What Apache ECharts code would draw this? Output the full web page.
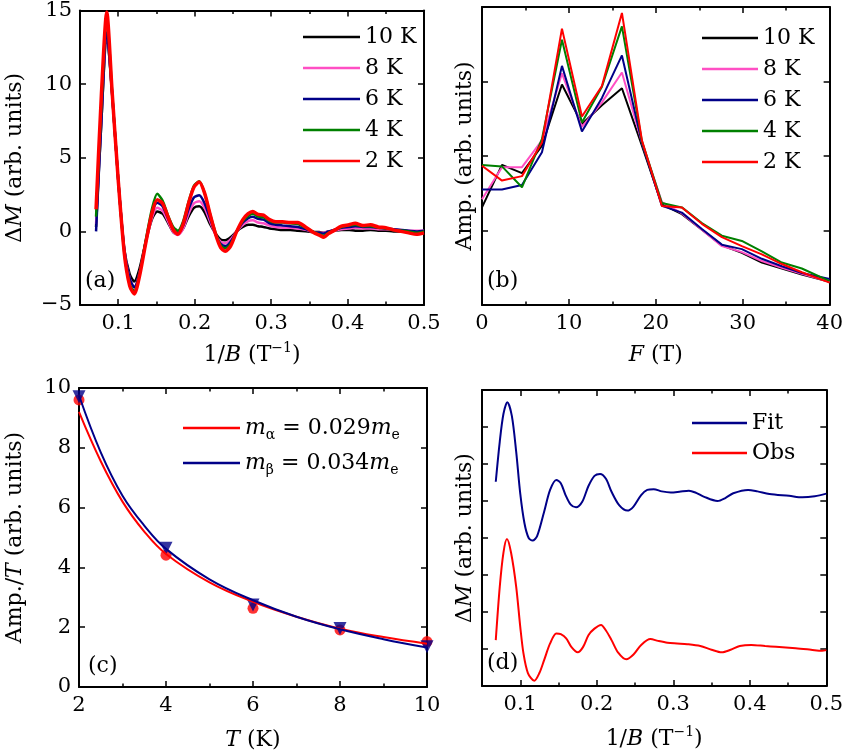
<!DOCTYPE html>
<html><head><meta charset="utf-8">
<script src="https://cdn.jsdelivr.net/npm/echarts@6/dist/echarts.min.js"></script>
<style>html,body{margin:0;padding:0;background:#fff}#c{width:846px;height:754px}</style>
</head><body><div id="c"></div>
<script>
const FONT = 'DejaVu Serif';
// ---------- Panel (a): dM vs 1/B ----------
const aX = [0.071,0.078,0.085,0.092,0.100,0.108,0.115,0.121,0.128,0.136,0.144,0.151,0.158,0.165,0.172,0.178,0.185,0.192,0.199,0.206,0.213,0.220,0.228,0.234,0.240,0.247,0.255,0.263,0.270,0.276,0.283,0.290,0.298,0.306,0.315,0.325,0.335,0.345,0.356,0.363,0.369,0.375,0.382,0.392,0.402,0.410,0.420,0.430,0.440,0.450,0.460,0.470,0.480,0.490,0.500];
const a10K = [0.3,7.5,13.4,9.3,3.5,-1.2,-2.9,-3.4,-2.5,-0.7,0.8,1.35,1.2,0.6,-0.05,-0.2,0.2,1.0,1.6,1.7,1.3,0.5,-0.2,-0.55,-0.6,-0.4,0.0,0.3,0.45,0.45,0.35,0.3,0.2,0.15,0.1,0.1,0.05,0.0,-0.05,-0.05,-0.1,0.0,0.05,0.1,0.1,0.05,0.05,0.1,0.05,0.05,0.0,0.0,0.0,0.0,0.0];
const a8K  = [0.5,7.8,13.7,9.4,3.5,-1.3,-3.2,-3.8,-2.8,-0.8,0.9,1.6,1.4,0.7,-0.05,-0.25,0.2,1.2,1.9,2.05,1.6,0.7,-0.3,-0.7,-0.8,-0.55,0.0,0.45,0.7,0.75,0.6,0.55,0.4,0.3,0.25,0.25,0.2,0.1,-0.05,-0.1,-0.1,0.0,0.05,0.15,0.2,0.25,0.2,0.2,0.15,0.15,0.1,0.1,0.05,0.05,0.05];
const a6K  = [0.0,7.5,13.5,9.4,3.5,-1.3,-3.2,-3.8,-2.8,-0.7,1.2,1.95,1.7,0.9,0.1,-0.1,0.4,1.5,2.3,2.45,1.9,0.9,-0.3,-0.85,-1.0,-0.7,0.0,0.6,0.9,1.0,0.85,0.8,0.55,0.45,0.4,0.35,0.3,0.15,-0.05,-0.1,-0.15,0.0,0.1,0.25,0.3,0.35,0.3,0.3,0.25,0.2,0.15,0.1,0.05,0.0,0.05];
const a4K  = [1.0,8.5,14.6,9.5,3.5,-1.5,-3.6,-4.05,-2.9,-0.6,1.5,2.55,2.1,1.1,0.3,0.05,0.7,2.0,3.1,3.4,2.6,1.2,-0.2,-0.95,-1.15,-0.85,0.0,0.7,1.05,1.2,1.0,0.95,0.7,0.6,0.6,0.55,0.5,0.25,-0.05,-0.2,-0.3,-0.1,0.05,0.3,0.4,0.45,0.35,0.35,0.25,0.2,0.1,0.05,0.0,-0.1,0.0];
const a2K  = [1.5,9.3,14.9,9.5,3.5,-1.5,-3.7,-4.25,-3.0,-0.8,1.2,2.15,1.9,1.0,0.1,-0.2,0.5,1.9,3.0,3.35,2.6,1.2,-0.3,-1.1,-1.35,-1.0,0.0,0.8,1.2,1.35,1.15,1.1,0.8,0.65,0.65,0.6,0.6,0.3,-0.1,-0.25,-0.4,-0.15,0.05,0.35,0.45,0.55,0.4,0.45,0.3,0.25,0.1,0.0,-0.1,-0.2,-0.1];
// ---------- Panel (b): FFT amplitude vs F ----------
const bF = [0,2.3,4.6,6.9,9.2,11.5,13.8,16.1,18.4,20.7,23.0,25.3,27.6,29.9,32.2,34.5,36.8,40];
const b10K = [1.31,1.88,1.77,2.14,2.96,2.43,2.68,2.91,2.14,1.35,1.22,1.01,0.80,0.70,0.57,0.49,0.41,0.31];
const b8K  = [1.42,1.85,1.85,2.21,3.11,2.39,2.72,3.12,2.18,1.38,1.23,1.01,0.79,0.71,0.59,0.50,0.42,0.31];
const b6K  = [1.55,1.55,1.61,2.05,3.21,2.33,2.78,3.35,2.18,1.33,1.24,1.02,0.81,0.75,0.62,0.52,0.43,0.35];
const b4K  = [1.88,1.86,1.58,2.23,3.56,2.45,2.93,3.74,2.20,1.37,1.31,1.10,0.93,0.86,0.72,0.57,0.49,0.32];
const b2K  = [1.87,1.67,1.73,2.18,3.71,2.53,2.94,3.92,2.21,1.33,1.31,1.09,0.91,0.79,0.68,0.55,0.44,0.30];
// ---------- Panel (c): Amp./T vs T ----------
const cT = [2,4,6,8,10];
const cAlphaPts = [9.6,4.41,2.63,1.91,1.52];
const cBetaPts  = [9.71,4.64,2.74,1.96,1.35];
const cFitT = [2,2.5,3,3.5,4,5,6,7,8,9,10];
const cAlphaFit = [9.2,7.55,6.2,5.2,4.45,3.5,2.85,2.35,1.95,1.67,1.45];
const cBetaFit  = [9.75,7.85,6.4,5.4,4.62,3.6,2.9,2.35,1.93,1.6,1.32];
// ---------- Panel (d): fit vs observed ----------
const dFitX = [0.068,0.0732,0.078,0.0831,0.089,0.0947,0.1,0.1055,0.111,0.1161,0.122,0.1312,0.139,0.1471,0.153,0.1592,0.166,0.1729,0.181,0.189,0.197,0.2043,0.212,0.2193,0.2295,0.24,0.248,0.258,0.266,0.2744,0.285,0.2967,0.308,0.3204,0.33,0.3397,0.3578,0.368,0.3784,0.3977,0.41,0.4257,0.4514,0.4687,0.485,0.5];
const dFitY = [5.52,6.6,7.35,7.67,7.3,6.33,5.2,4.4,4.0,3.93,4.05,4.71,5.3,5.57,5.48,5.16,4.9,4.83,4.98,5.4,5.68,5.73,5.6,5.25,4.88,4.74,4.85,5.16,5.3,5.32,5.26,5.23,5.25,5.28,5.22,5.12,5.0,5.08,5.21,5.30,5.26,5.19,5.14,5.10,5.13,5.2];
const dObsX = [0.068,0.0732,0.078,0.0826,0.088,0.0947,0.1,0.1042,0.11,0.1183,0.125,0.1312,0.139,0.1471,0.153,0.16,0.167,0.1751,0.182,0.1893,0.197,0.2056,0.212,0.2193,0.228,0.2386,0.248,0.258,0.2701,0.28,0.2924,0.305,0.3182,0.3353,0.35,0.3633,0.375,0.3869,0.402,0.42,0.4342,0.46,0.48,0.4944,0.5];
const dObsY = [1.24,2.68,3.6,3.97,3.6,2.68,1.6,0.88,0.35,0.14,0.35,0.7,1.15,1.42,1.4,1.29,1.05,0.91,1.05,1.38,1.55,1.65,1.5,1.24,0.9,0.72,0.85,1.11,1.27,1.22,1.17,1.15,1.13,1.08,0.98,0.91,0.98,1.08,1.11,1.08,1.06,1.02,0.98,0.95,0.97];

const COL = {k:'#000000', p:'#ff4fc4', b:'#000088', g:'#008000', r:'#ff0000'};
const RICH = {
  n:{fontFamily:FONT,fontSize:22,color:'#000',lineHeight:28},
  i:{fontFamily:FONT,fontSize:22,fontStyle:'italic',color:'#000',lineHeight:28},
  sup:{fontFamily:FONT,fontSize:14,color:'#000',verticalAlign:'top',lineHeight:14},
  sub:{fontFamily:FONT,fontSize:14,color:'#000',verticalAlign:'bottom',lineHeight:14}
};
const fmt = v => String(+(+v).toFixed(2)).replace('-', '\u2212');

const xAxes = [], yAxes = [];
function addAxes(list, grid, dim, c) {
  const sides = dim === 'x' ? ['bottom','top'] : ['left','right'];
  let mainIdx = -1;
  sides.forEach((pos, k) => {
    const base = {type:'value', gridIndex:grid, min:c.min, max:c.max, position:pos, splitLine:{show:false}, axisPointer:{show:false}};
    const major = Object.assign({}, base, {
      axisLine:{show:true, onZero:false, lineStyle:{color:'#000', width:2}},
      axisTick:{show:true, inside:true, length:6, customValues:c.major, lineStyle:{color:'#000', width:1.5}},
      axisLabel:(k === 0 && c.labels) ? {show:true, customValues:c.labels, formatter:fmt, fontFamily:FONT, fontSize:21, color:'#000', margin:8, showMinLabel:true, showMaxLabel:true} : {show:false}
    });
    if (k === 0) {
      mainIdx = list.length;
      major.name = c.name; major.nameLocation = 'middle'; major.nameGap = c.nameGap;
      major.nameTextStyle = {fontFamily:FONT, fontSize:22, color:'#000', rich:RICH};
    }
    list.push(major);
    if (c.minor) {
      list.push(Object.assign({}, base, {
        axisLine:{show:false, onZero:false},
        axisTick:{show:true, inside:true, length:3.5, customValues:c.minor, lineStyle:{color:'#000', width:1.5}},
        axisLabel:{show:false}
      }));
    }
  });
  return mainIdx;
}
const invB = '{n|1/}{i|B}{n| (T}{sup|\u22121}{n|)}';
const dM = '{n|\u0394}{i|M}{n| (arb. units)}';
const axa = addAxes(xAxes, 0, 'x', {min:0.05, max:0.5, major:[0.1,0.2,0.3,0.4,0.5], minor:[0.15,0.25,0.35,0.45], labels:[0.1,0.2,0.3,0.4,0.5], name:invB, nameGap:36});
const aya = addAxes(yAxes, 0, 'y', {min:-5, max:15, major:[-5,0,5,10,15], labels:[-5,0,5,10,15], name:dM, nameGap:51});
const axb = addAxes(xAxes, 1, 'x', {min:0, max:40, major:[0,10,20,30,40], minor:[5,15,25,35], labels:[0,10,20,30,40], name:'{i|F}{n| (T)}', nameGap:36});
const ayb = addAxes(yAxes, 1, 'y', {min:0, max:4, major:[1,2,3], name:'{n|Amp. (arb. units)}', nameGap:3});
const axc = addAxes(xAxes, 2, 'x', {min:2, max:10, major:[2,4,6,8,10], minor:[3,5,7,9], labels:[2,4,6,8,10], name:'{i|T}{n| (K)}', nameGap:39});
const ayc = addAxes(yAxes, 2, 'y', {min:0, max:10, major:[0,2,4,6,8,10], labels:[0,2,4,6,8,10], name:'{n|Amp./}{i|T}{n| (arb. units)}', nameGap:50});
const axd = addAxes(xAxes, 3, 'x', {min:0.05, max:0.5, major:[0.1,0.2,0.3,0.4,0.5], minor:[0.15,0.25,0.35,0.45], labels:[0.1,0.2,0.3,0.4,0.5], name:invB, nameGap:39});
const ayd = addAxes(yAxes, 3, 'y', {min:0, max:8, major:[1,2,3,4,5,6,7], name:dM, nameGap:3});

const zip = (xs, ys) => xs.map((x, i) => [x, ys[i]]);
function line(name, xi, yi, xs, ys, color, width, smooth) {
  return {type:'line', name, xAxisIndex:xi, yAxisIndex:yi, data:zip(xs, ys), symbol:'none', smooth:smooth || false,
    lineStyle:{color, width}, itemStyle:{color}, animation:false, clip:true};
}
const series = [
  line('10 K', axa, aya, aX, a10K, COL.k, 2.5, 0.25),
  line('8 K',  axa, aya, aX, a8K,  COL.p, 2.5, 0.25),
  line('6 K',  axa, aya, aX, a6K,  COL.b, 2.5, 0.25),
  line('4 K',  axa, aya, aX, a4K,  COL.g, 2.5, 0.25),
  line('2 K',  axa, aya, aX, a2K,  COL.r, 3.5, 0.25),
  line('10 K', axb, ayb, bF, b10K, COL.k, 2),
  line('8 K',  axb, ayb, bF, b8K,  COL.p, 2),
  line('6 K',  axb, ayb, bF, b6K,  COL.b, 2),
  line('4 K',  axb, ayb, bF, b4K,  COL.g, 2),
  line('2 K',  axb, ayb, bF, b2K,  COL.r, 2),
  {type:'scatter', name:'alphaPts', xAxisIndex:axc, yAxisIndex:ayc, data:zip(cT, cAlphaPts), symbol:'circle', symbolSize:11, itemStyle:{color:COL.r}, animation:false},
  {type:'scatter', name:'betaPts', xAxisIndex:axc, yAxisIndex:ayc, data:zip(cT, cBetaPts), symbol:'triangle', symbolRotate:180, symbolSize:13, itemStyle:{color:COL.b}, animation:false},
  line('alpha', axc, ayc, cFitT, cAlphaFit, COL.r, 2, 0.4),
  line('beta',  axc, ayc, cFitT, cBetaFit,  COL.b, 2, 0.4),
  line('Fit', axd, ayd, dFitX, dFitY, COL.b, 2, 0.3),
  line('Obs', axd, ayd, dObsX, dObsY, COL.r, 2, 0.3)
];
const legBase = {orient:'vertical', selectedMode:false, icon:'rect', itemHeight:2.5,
  textStyle:{fontFamily:FONT, fontSize:22, color:'#000', lineHeight:22, rich:RICH}};
const legends = [
  Object.assign({}, legBase, {left:298, top:21, itemWidth:57, itemGap:9, data:['10 K','8 K','6 K','4 K','2 K']}),
  Object.assign({}, legBase, {left:697, top:22, itemWidth:56, itemGap:9, data:['10 K','8 K','6 K','4 K','2 K']}),
  Object.assign({}, legBase, {left:178, top:409, itemWidth:57, itemGap:7, data:['alpha','beta'],
    formatter: n => n === 'alpha' ? '{i|m}{sub|\u03b1}{n| = 0.029}{i|m}{sub|e}' : '{i|m}{sub|\u03b2}{n| = 0.034}{i|m}{sub|e}'}),
  Object.assign({}, legBase, {left:687, top:407, itemWidth:55, itemGap:8, data:['Fit','Obs']})
];
const lab = (t, l, tp) => ({type:'text', left:l, top:tp, style:{text:t, font:'22px "DejaVu Serif"', fill:'#000'}});
const option = {
  backgroundColor:'#fff',
  animation:false,
  grid:[
    {left:80, top:8, width:344, height:297},
    {left:482, top:7, width:350, height:298},
    {left:79, top:388, width:348, height:299},
    {left:482, top:390, width:349, height:296}
  ],
  xAxis:xAxes, yAxis:yAxes, legend:legends, series,
  graphic:[lab('(a)', 85, 270), lab('(b)', 487, 270), lab('(c)', 88, 655), lab('(d)', 487, 652)]
};
const chart = echarts.init(document.getElementById('c'), null, {renderer:'canvas'});
chart.setOption(option);
</script></body></html>
